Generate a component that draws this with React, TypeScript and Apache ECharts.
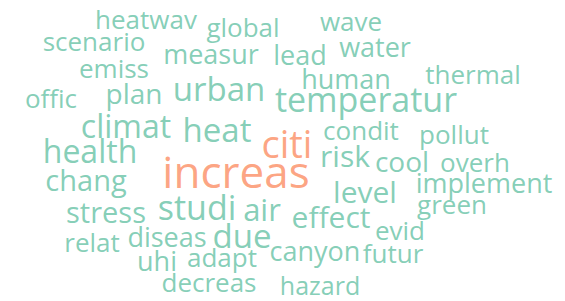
import React, { useEffect, useRef } from "react";
import * as echarts from "echarts";

const words = [
  "heatwav", "global", "wave", "scenario", "measur", "lead", "water", "emiss", "human", "thermal",
  "offic", "plan", "urban", "temperatur", "climat", "heat", "citi", "condit", "pollut", "health",
  "risk", "cool", "overh", "increas", "chang", "level", "implement", "green", "stress", "studi",
  "air", "effect", "evid", "due", "relat", "diseas", "canyon", "futur", "uhi", "adapt",
  "decreas", "hazard",
];
// relative weight (rendered font size)
const weights = [
  26, 26, 26, 26, 27, 27, 27, 26, 27, 26,
  26, 28, 33, 34, 32, 33, 38, 26, 26, 32,
  30, 28, 26, 44, 29, 30, 27, 26, 29, 34,
  31, 30, 26, 33, 26, 27, 27, 26, 27, 26,
  26, 25,
];
// layout positions of the cloud (pixel space of the 565x301 canvas)
const posX = [
  146, 243, 351, 94, 211, 300, 375, 114, 346, 473,
  51, 134, 219, 366, 126, 217, 287, 361, 454, 90,
  345, 402, 475, 236, 86, 365, 484, 452, 106, 197,
  262, 331, 400, 242, 92, 167, 315, 393, 157, 222,
  209, 320,
];
const posY = [
  19, 27, 21, 41, 53, 54, 46, 68, 78, 74,
  98, 93, 88, 99, 125, 129, 143, 130, 134, 150,
  155, 161, 162, 171, 179, 191, 182, 204, 211, 207,
  209, 216, 230, 235, 242, 236, 250, 253, 260, 257,
  282, 285,
];
const HIGHLIGHT = 35;

export default function App() {
  const ref = useRef<HTMLDivElement>(null);
  useEffect(() => {
    const chart = echarts.init(ref.current!, undefined, { renderer: "svg" });
    chart.setOption({
      animation: false,
      grid: { left: 0, right: 0, top: 0, bottom: 0 },
      xAxis: { type: "value", min: 0, max: 565, show: false },
      yAxis: { type: "value", min: 0, max: 301, inverse: true, show: false },
      series: [
        {
          type: "scatter",
          symbolSize: 1,
          itemStyle: { color: "rgba(0,0,0,0)" },
          label: {
            show: true,
            position: "inside",
            formatter: (p: any) => p.name,
            fontFamily: "Open Sans",
            fontWeight: 500,
          },
          data: words.map((w, i) => ({
            name: w,
            value: [posX[i], posY[i]],
            label: {
              fontSize: weights[i],
              color: weights[i] >= HIGHLIGHT ? "#fc8d62" : "#66c2a5",
            },
          })),
        },
      ],
    });
    return () => chart.dispose();
  }, []);
  return (
    <div
      ref={ref}
      style={{ position: "fixed", left: 0, top: 0, width: 565, height: 301, background: "#fff" }}
    />
  );
}
